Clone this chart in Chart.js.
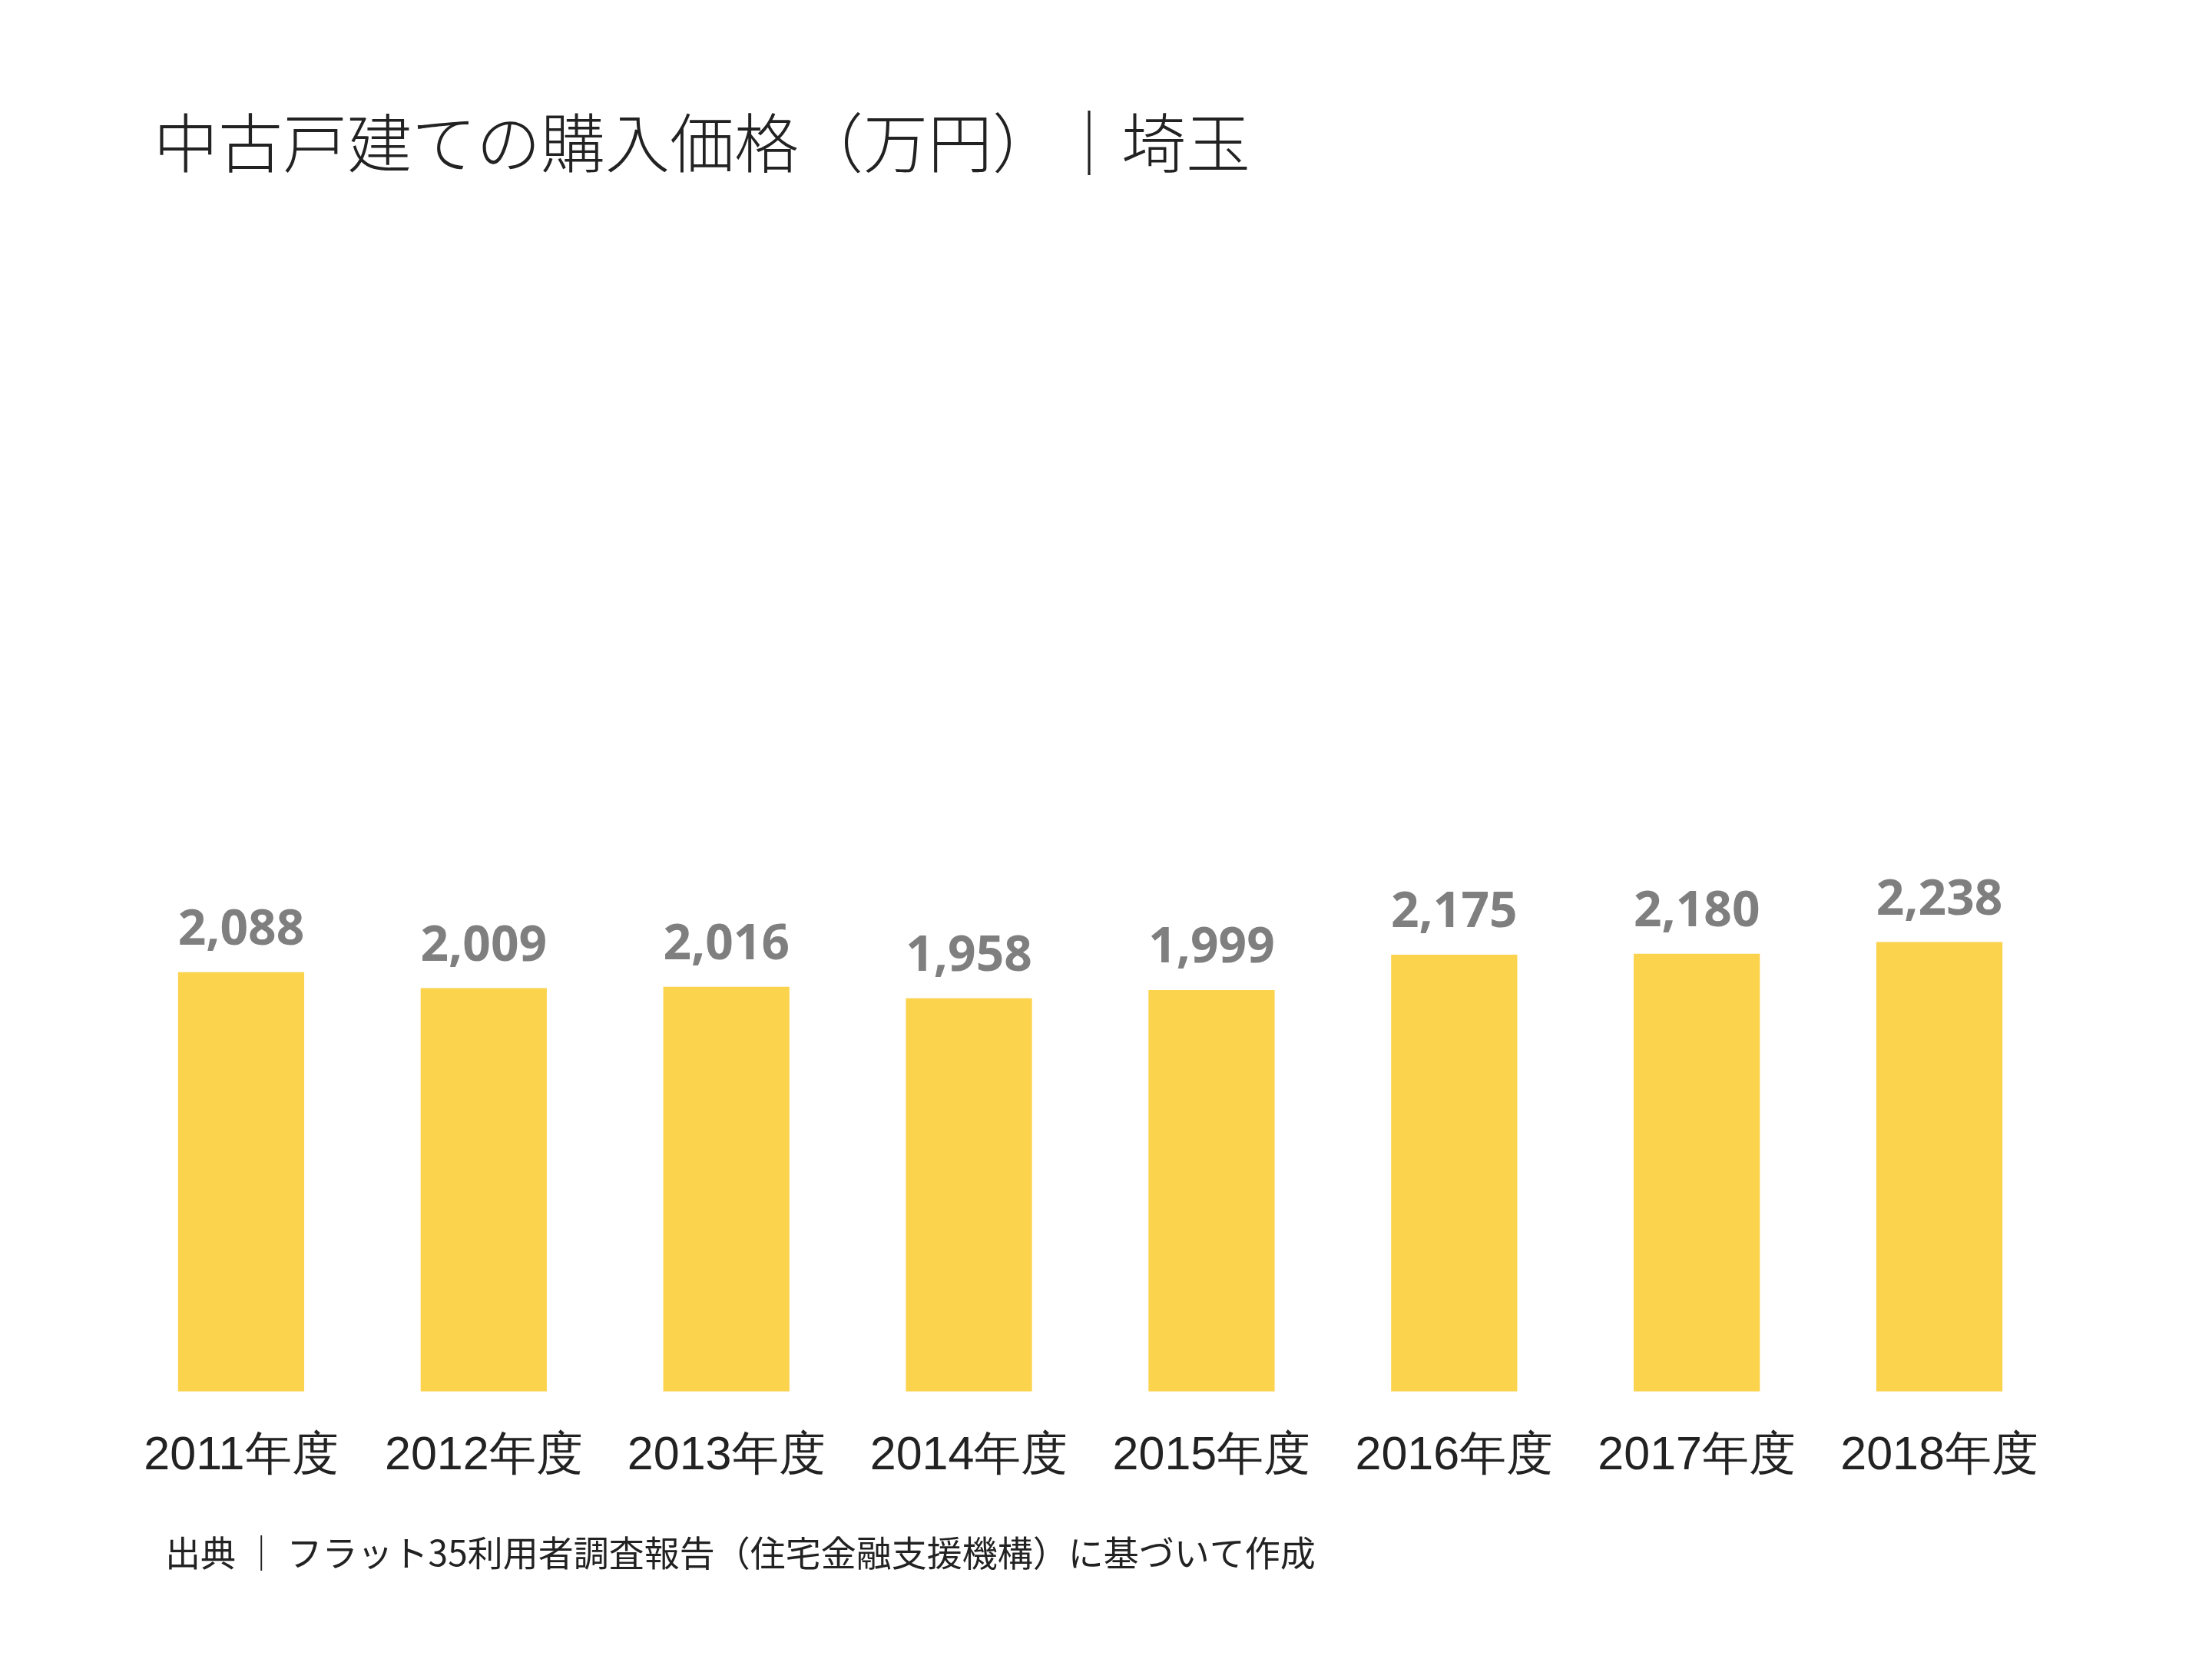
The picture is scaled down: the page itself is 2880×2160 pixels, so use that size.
<!DOCTYPE html>
<html><head><meta charset="utf-8">
<script src="https://cdn.jsdelivr.net/npm/chart.js@4"></script>
<style>html,body{margin:0;background:#fff}</style>
</head><body>
<canvas id="c" width="2880" height="2160"></canvas>
<script>
const categories=['2011年度','2012年度','2013年度','2014年度','2015年度','2016年度','2017年度','2018年度'];
const values=[2088,2009,2016,1958,1999,2175,2180,2238];
const titleText='中古戸建ての購入価格（万円）｜埼玉';
const sourceText='出典 ｜ フラット35利用者調査報告（住宅金融支援機構）に基づいて作成';
const textPlugin={id:'txt',afterDraw(ch){const c=ch.ctx;c.save();
c.fillStyle='#222';c.textBaseline='middle';
c.font='300 84px "Noto Sans CJK JP"';c.fillText(titleText,200,186);
c.font='46px "Noto Sans CJK JP"';c.fillText(sourceText,215,2022);
const m=ch.getDatasetMeta(0);c.fillStyle='#7f7f7f';c.font='bold 64px "Open Sans"';c.textAlign='center';c.textBaseline='bottom';
m.data.forEach((b,i)=>c.fillText(values[i].toLocaleString('en-US'),b.x,b.y-22));
c.restore();}};
Chart.defaults.font.family='"Liberation Sans", Arial, sans-serif';
new Chart(document.getElementById('c'),{type:'bar',
data:{labels:categories,datasets:[{data:values,backgroundColor:'#fcd34d',barPercentage:0.52,categoryPercentage:1}]},
options:{responsive:false,devicePixelRatio:1,animation:false,
layout:{padding:{left:156,right:197,top:269,bottom:187}},
plugins:{legend:{display:false},tooltip:{enabled:false}},
scales:{y:{display:false,min:0,max:5900},
x:{grid:{display:false},border:{display:false},ticks:{color:'#222',font:{size:61},padding:40}}}},
plugins:[textPlugin]});
</script></body></html>
